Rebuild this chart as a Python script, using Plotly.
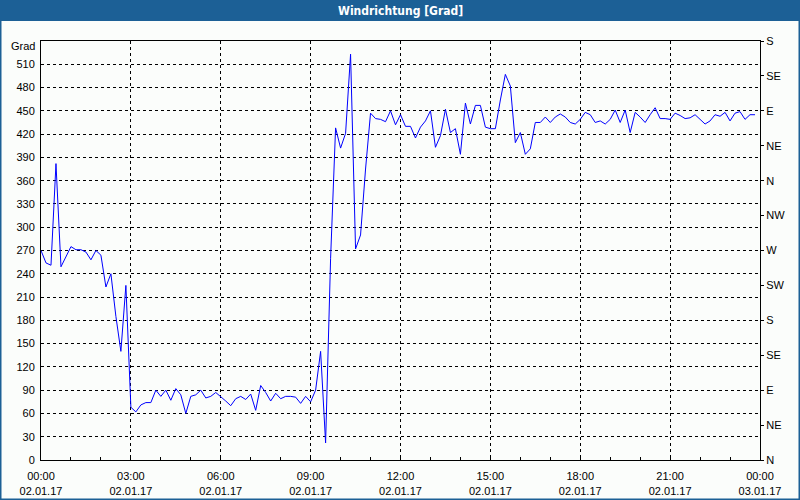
import plotly.graph_objects as go
import pandas as pd

# ---- data -------------------------------------------------------------
start_time = "2017-01-02 00:00"
interval = "10min"
direction = [
    270, 254, 251, 382, 249, 263, 275, 271, 271, 268,
    258, 270, 264, 223, 240, 185, 140, 225, 68, 62,
    71, 74, 74, 90, 82, 90, 77, 92, 84, 60,
    82, 84, 90, 80, 82, 87, 82, 76, 70, 79,
    82, 78, 85, 64, 96, 87, 76, 86, 79, 82,
    82, 81, 73, 82, 75, 90, 140, 22, 260, 428,
    402, 421, 523, 272, 290, 375, 447, 440, 439, 436,
    450, 432, 445, 430, 430, 415, 429, 437, 450, 403,
    418, 452, 422, 427, 394, 460, 433, 457, 457, 429,
    427, 427, 464, 497, 482, 409, 422, 394, 401, 435,
    435, 442, 435, 442, 446, 442, 435, 433, 439, 448,
    445, 435, 437, 433, 439, 451, 435, 451, 422, 448,
    442, 435, 445, 454, 440, 440, 439, 447, 444, 440,
    441, 445, 439, 433, 437, 445, 443, 448, 437, 447,
    449, 439, 445, 445,
]
times = pd.date_range(start_time, periods=len(direction), freq=interval)

left_tick_vals = list(range(0, 540, 30))
compass_vals = list(range(0, 541, 45))
compass_labels = ["N", "NE", "E", "SE", "S", "SW", "W", "NW", "N", "NE", "E", "SE", "S"]
x_tick_times = pd.date_range("2017-01-02 00:00", "2017-01-03 00:00", freq="3h")
x_tick_text = [f"{t:%H:%M}<br>{t:%d.%m.%y}" for t in x_tick_times]
title_text = "Windrichtung [Grad]"
unit_text = "Grad"

# ---- figure -----------------------------------------------------------
W, H = 800, 500
ML, MR, MT, MB = 41, 40, 41, 40
PW, PH = W - ML - MR, H - MT - MB

def px_x(x):
    return (x - ML) / PW

def px_y(y):
    return (H - MB - y) / PH

FONT = "Liberation Sans, Arial, sans-serif"
TITLE_FONT = "Liberation Sans Narrow, DejaVu Sans Condensed, Liberation Sans, sans-serif"
BLUE_BAR = "#1c6096"
BG = "#fbfdfb"

fig = go.Figure()
fig.add_trace(go.Scatter(x=times, y=direction, mode="lines",
                         line=dict(color="#0000ff", width=1),
                         hoverinfo="skip", showlegend=False))
fig.add_trace(go.Scatter(x=times, y=direction, mode="lines", yaxis="y2",
                         line=dict(color="rgba(0,0,0,0)", width=0),
                         hoverinfo="skip", showlegend=False))

fig.update_layout(
    width=W, height=H,
    margin=dict(l=ML, r=MR, t=MT, b=MB, pad=0, autoexpand=False),
    paper_bgcolor=BG, plot_bgcolor=BG,
    font=dict(family=FONT, size=11, color="black"),
    xaxis=dict(
        type="date", automargin=False,
        range=[x_tick_times[0], x_tick_times[-1]],
        tickvals=x_tick_times, ticktext=x_tick_text,
        showgrid=True, gridcolor="black", gridwidth=1, griddash="3px,3px",
        showline=True, linecolor="black", linewidth=1, mirror=True,
        ticks="inside", ticklen=3, tickcolor="black", ticklabelstandoff=6,
        minor=dict(dtick=3600000, ticks="inside", ticklen=3, tickcolor="black", showgrid=False),
        zeroline=False,
    ),
    yaxis=dict(
        range=[0, 540], automargin=False,
        tickvals=left_tick_vals,
        showgrid=True, gridcolor="black", gridwidth=1, griddash="3px,3px",
        showline=True, linecolor="black", linewidth=1, mirror=True,
        ticks="", zeroline=False, ticklabelstandoff=3,
    ),
    yaxis2=dict(
        range=[0, 540], overlaying="y", side="right", automargin=False,
        tickvals=compass_vals, ticktext=compass_labels,
        showgrid=False, showline=True, linecolor="black", linewidth=1,
        ticks="outside", ticklen=3, tickcolor="black", zeroline=False,
        ticklabelstandoff=0,
    ),
    shapes=[
        dict(type="rect", xref="paper", yref="paper", layer="below",
             x0=px_x(0), x1=px_x(W), y0=px_y(0), y1=px_y(21),
             fillcolor=BLUE_BAR, line=dict(width=0)),
        dict(type="rect", xref="paper", yref="paper", layer="above",
             x0=px_x(0.5), x1=px_x(W - 0.5), y0=px_y(0.5), y1=px_y(H - 0.5),
             fillcolor="rgba(0,0,0,0)", line=dict(color=BLUE_BAR, width=2)),
    ],
    annotations=[
        dict(text="<b>" + title_text + "</b>", xref="paper", yref="paper",
             x=px_x(400), y=px_y(10.5), xanchor="center", yanchor="middle",
             showarrow=False, font=dict(family=TITLE_FONT, size=12, color="white")),
        dict(text=unit_text, xref="paper", yref="paper",
             x=px_x(37), y=px_y(46), xanchor="right", yanchor="middle",
             showarrow=False, font=dict(family=FONT, size=11, color="black")),
    ],
)

fig.write_html(
    "out.html",
    config={"displayModeBar": False, "staticPlot": True},
    post_script="document.body.style.margin='0';document.body.style.overflow='hidden';",
)
